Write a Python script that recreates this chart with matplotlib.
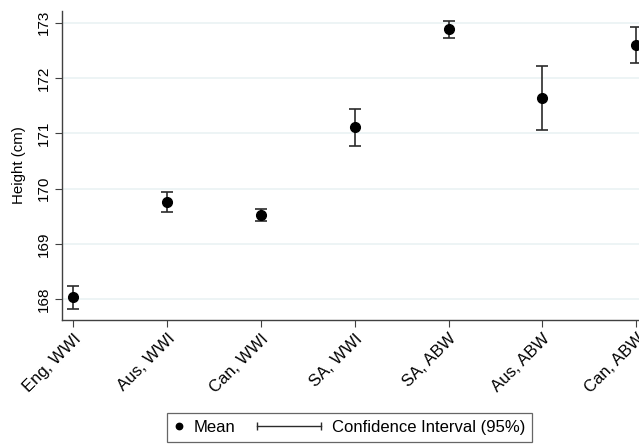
import matplotlib.pyplot as plt
from matplotlib.lines import Line2D
from matplotlib.legend_handler import HandlerBase

plt.rcParams["font.family"] = ["Liberation Sans", "DejaVu Sans"]

# group labels and estimates
groups = ["Eng, WWI", "Aus, WWI", "Can, WWI", "SA, WWI", "SA, ABW", "Aus, ABW", "Can, ABW"]
mean_height = [168.04, 169.76, 169.52, 171.11, 172.89, 171.64, 172.60]
ci_low = [167.83, 169.58, 169.41, 170.78, 172.73, 171.06, 172.27]
ci_high = [168.25, 169.94, 169.63, 171.45, 173.04, 172.21, 172.93]

BAR_COLOR = "#2b2b2b"


# legend handle for the mean: a dot near the left of the handle box
class HandlerDot(HandlerBase):
    def create_artists(self, legend, orig_handle, xdescent, ydescent,
                       width, height, fontsize, trans):
        y = height / 2 - ydescent
        dot = Line2D([3.6 - xdescent], [y], marker="o", markersize=4.6,
                     color="black", linestyle="none", transform=trans)
        return [dot]


# legend handle for the CI: a horizontal bar with end caps, drawn wider
# than the handle box (it reaches back into the column gap)
class HandlerCI(HandlerBase):
    def create_artists(self, legend, orig_handle, xdescent, ydescent,
                       width, height, fontsize, trans):
        y = height / 2 - ydescent
        x1 = width - xdescent - 3.5
        x0 = x1 - 46
        line = Line2D([x0, x1], [y, y], color=BAR_COLOR, linewidth=1.0,
                      transform=trans)
        caps = Line2D([x0, x1], [y, y], color=BAR_COLOR, marker="|",
                      markersize=5.5, markeredgewidth=1.0, linestyle="none",
                      transform=trans)
        return [line, caps]


def create_graph():
    fig = plt.figure(figsize=(6.39, 4.45), dpi=100)
    ax = fig.add_axes([0.097, 0.281, 0.903, 0.694])

    x = list(range(len(groups)))
    err_lo = [m - lo for m, lo in zip(mean_height, ci_low)]
    err_hi = [hi - m for m, hi in zip(mean_height, ci_high)]

    ax.errorbar(x, mean_height, yerr=[err_lo, err_hi], fmt="none",
                ecolor=BAR_COLOR, elinewidth=1.2, capsize=4.3, capthick=1.2,
                zorder=3)
    ax.plot(x, mean_height, "o", color="black", markersize=7, zorder=4)

    ax.set_xlim(-0.12, 6.03)
    ax.set_ylim(167.63, 173.21)
    ax.set_yticks([168, 169, 170, 171, 172, 173])
    ax.set_xticks(x)
    ax.set_xticklabels(groups, rotation=45, ha="right", rotation_mode="anchor",
                       fontsize=12)
    for lab in ax.get_yticklabels():
        lab.set_rotation(90)
        lab.set_va("center")
    ax.tick_params(axis="y", labelsize=11, length=5, color="#404040", pad=3)
    ax.tick_params(axis="x", length=5, color="#404040", pad=3)
    ax.set_ylabel("Height (cm)", fontsize=10.8, labelpad=8)

    ax.grid(axis="y", color="#eaf2f3", linewidth=1.2)
    ax.set_axisbelow(True)
    for side in ["top", "right"]:
        ax.spines[side].set_visible(False)
    for side in ["left", "bottom"]:
        ax.spines[side].set_color("#404040")
        ax.spines[side].set_linewidth(1.0)

    mean_h = Line2D([], [], color="black", marker="o", linestyle="none")
    ci_h = Line2D([], [], color=BAR_COLOR)
    leg = fig.legend([mean_h, ci_h], ["Mean", "Confidence Interval (95%)"],
                     handler_map={mean_h: HandlerDot(), ci_h: HandlerCI()},
                     loc="upper left", bbox_to_anchor=(167 / 639, 1 - 413 / 445),
                     borderaxespad=0, ncol=2, fontsize=12, frameon=True,
                     fancybox=False, edgecolor="#404040", handlelength=0.85,
                     columnspacing=4.58, handletextpad=0.34, borderpad=0.42)
    leg.get_frame().set_linewidth(0.9)
    fig.savefig("out.png", dpi=100)


if __name__ == "__main__":
    create_graph()
